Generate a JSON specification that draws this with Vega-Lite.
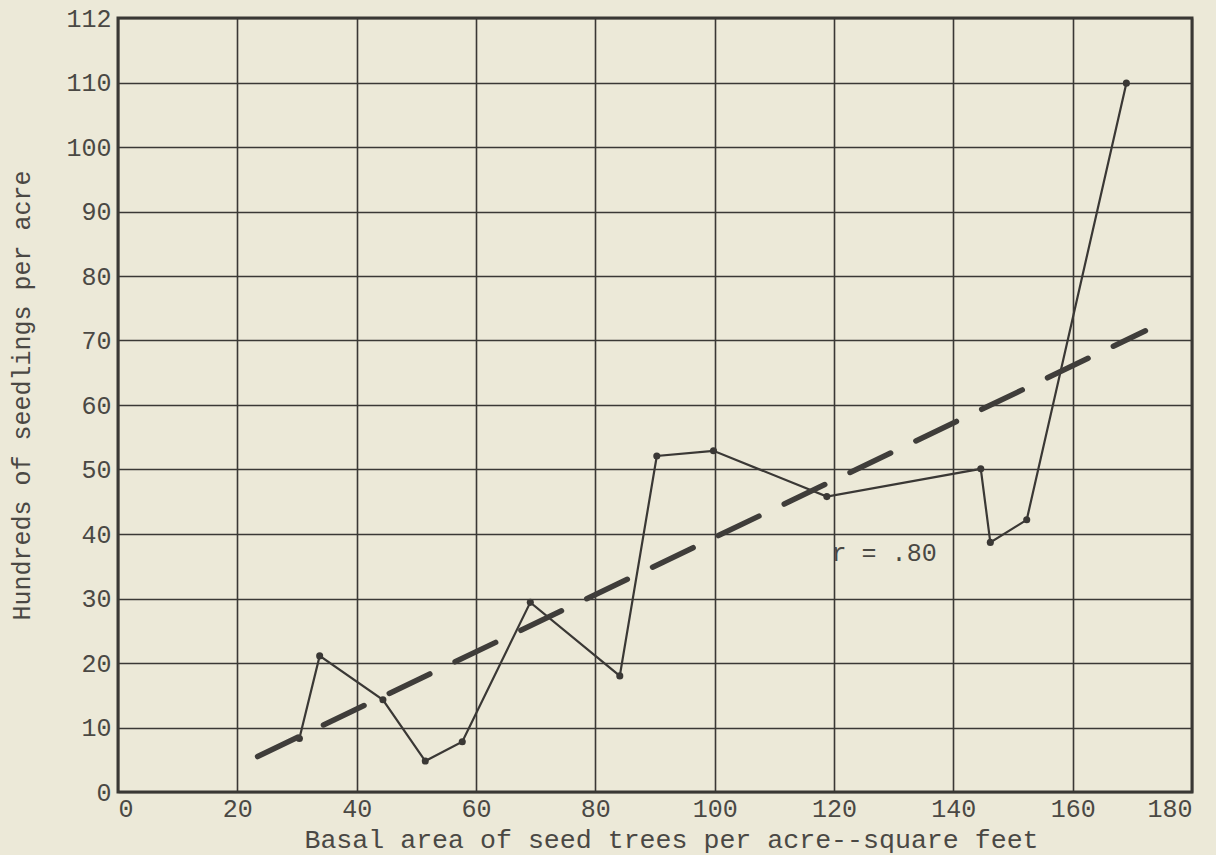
{
  "$schema": "https://vega.github.io/schema/vega-lite/v6.json",
  "width": 1074,
  "height": 774,
  "autosize": "none",
  "padding": {"left": 118, "top": 18, "right": 24, "bottom": 63},
  "background": "#ece9d8",
  "config": {
    "view": {"stroke": "#3a3835", "strokeWidth": 3},
    "font": "Liberation Mono",
    "axis": {
      "labelFont": "Liberation Mono",
      "titleFont": "Liberation Mono",
      "labelFontSize": 25,
      "titleFontSize": 26.6,
      "labelColor": "#4a4844",
      "titleColor": "#4a4844",
      "titleFontWeight": "normal",
      "domain": false,
      "ticks": false,
      "grid": true,
      "gridColor": "#3a3835",
      "gridWidth": 1.6,
      "gridOpacity": 1
    }
  },
  "datasets": {
    "obs": [
      {"basal": 30.4, "seedlings": 8.3},
      {"basal": 33.8, "seedlings": 21.1},
      {"basal": 44.4, "seedlings": 14.3},
      {"basal": 51.5, "seedlings": 4.8},
      {"basal": 57.7, "seedlings": 7.8},
      {"basal": 69.1, "seedlings": 29.4},
      {"basal": 84.1, "seedlings": 18.0},
      {"basal": 90.3, "seedlings": 52.1},
      {"basal": 99.8, "seedlings": 52.9},
      {"basal": 118.8, "seedlings": 45.8},
      {"basal": 144.6, "seedlings": 50.1},
      {"basal": 146.2, "seedlings": 38.7},
      {"basal": 152.3, "seedlings": 42.2},
      {"basal": 169.0, "seedlings": 109.9}
    ],
    "trend": [
      {"basal": 23.4, "seedlings": 5.5},
      {"basal": 172.2, "seedlings": 71.5}
    ],
    "note": [
      {"basal": 119.6, "seedlings": 37.1, "label": "r = .80"}
    ]
  },
  "layer": [
    {
      "data": {"name": "obs"},
      "mark": {"type": "line", "color": "#3a3835", "strokeWidth": 2.2},
      "encoding": {
        "x": {
          "field": "basal",
          "type": "quantitative",
          "scale": {"domain": [0, 180], "nice": false, "zero": false},
          "axis": {
            "values": [0, 20, 40, 60, 80, 100, 120, 140, 160, 180],
            "title": "Basal area of seed trees per acre--square feet",
            "labelPadding": 4,
            "titlePadding": 5,
            "titleX": 553
          }
        },
        "y": {
          "field": "seedlings",
          "type": "quantitative",
          "scale": {"domain": [0, 120], "nice": false, "zero": false},
          "axis": {
            "values": [0, 10, 20, 30, 40, 50, 60, 70, 80, 90, 100, 110, 120],
            "labelExpr": "datum.value == 120 ? '112' : datum.label",
            "title": "Hundreds of seedlings per acre",
            "titleFontSize": 25,
            "labelPadding": 7,
            "titlePadding": 31,
            "titleY": 377
          }
        }
      }
    },
    {
      "data": {"name": "obs"},
      "mark": {"type": "point", "filled": true, "color": "#3a3835", "size": 50, "opacity": 1},
      "encoding": {
        "x": {"field": "basal", "type": "quantitative"},
        "y": {"field": "seedlings", "type": "quantitative"}
      }
    },
    {
      "data": {"name": "trend"},
      "mark": {"type": "line", "color": "#3f3d3a", "strokeWidth": 5.5, "strokeCap": "round", "strokeDash": [45, 28]},
      "encoding": {
        "x": {"field": "basal", "type": "quantitative"},
        "y": {"field": "seedlings", "type": "quantitative"}
      }
    },
    {
      "data": {"name": "note"},
      "mark": {"type": "text", "align": "left", "baseline": "middle", "font": "Liberation Mono", "fontSize": 25, "color": "#4a4844"},
      "encoding": {
        "x": {"field": "basal", "type": "quantitative"},
        "y": {"field": "seedlings", "type": "quantitative"},
        "text": {"field": "label"}
      }
    }
  ]
}
